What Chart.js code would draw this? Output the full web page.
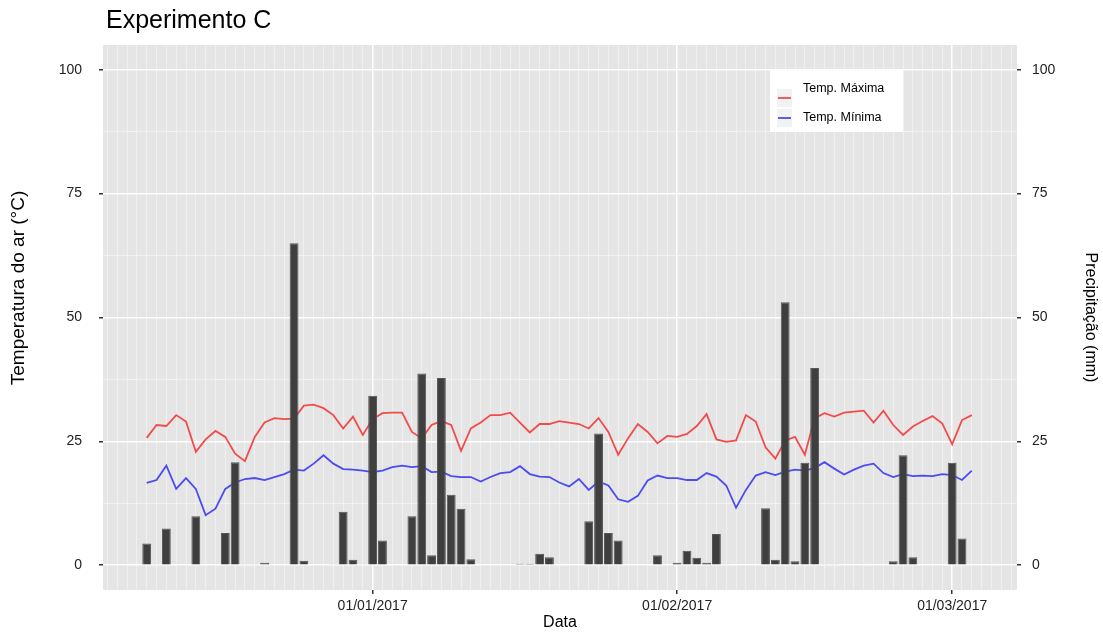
<!DOCTYPE html>
<html>
<head>
<meta charset="utf-8">
<script src="https://cdn.jsdelivr.net/npm/chart.js@4"></script>
<style>
  body { margin: 0; background: #fff; }
  #wrap { width: 1103px; height: 633px; }
</style>
</head>
<body>
<div id="wrap"><canvas id="chart" width="1103" height="633"></canvas></div>
<script>
// daily series, first day = startDate
const startDate = '2016-12-09';

const tmax = [25.7, 28.3, 28.1, 30.3, 29.0, 22.9, 25.4, 27.1, 25.9, 22.5,
              21.0, 25.9, 28.8, 29.7, 29.5, 29.6, 32.2, 32.4, 31.7, 30.3,
              27.6, 30.0, 26.3, 29.5, 30.7, 30.8, 30.8, 26.9, 25.6, 28.3,
              29.1, 28.3, 23.1, 27.6, 28.8, 30.3, 30.3, 30.8, 28.8, 26.8,
              28.5, 28.5, 29.1, 28.8, 28.5, 27.6, 29.7, 26.9, 22.3, 25.6,
              28.5, 26.9, 24.6, 26.1, 25.9, 26.5, 28.1, 30.5, 25.4, 24.9,
              25.2, 30.3, 29.0, 23.8, 21.5, 25.2, 25.9, 22.3, 29.7, 30.7,
              30.0, 30.8, 31.0, 31.2, 28.8, 31.2, 28.3, 26.3, 28.0, 29.1,
              30.1, 28.6, 24.4, 29.3, 30.3];

const tmin = [16.6, 17.2, 20.1, 15.4, 17.6, 15.4, 10.1, 11.4, 15.4, 16.7,
              17.4, 17.6, 17.2, 17.8, 18.4, 19.3, 19.1, 20.5, 22.2, 20.5,
              19.4, 19.3, 19.1, 18.8, 19.1, 19.8, 20.1, 19.8, 20.0, 18.8,
              18.9, 18.0, 17.8, 17.8, 16.9, 17.8, 18.6, 18.8, 20.0, 18.4,
              17.9, 17.8, 16.7, 15.9, 17.4, 15.2, 16.9, 16.1, 13.3, 12.8,
              14.0, 17.1, 18.1, 17.6, 17.6, 17.2, 17.2, 18.6, 17.9, 16.1,
              11.6, 15.2, 18.1, 18.8, 18.2, 18.9, 19.3, 19.1, 19.6, 20.8,
              19.5, 18.3, 19.3, 20.1, 20.5, 18.6, 17.8, 18.4, 18.0, 18.1,
              18.0, 18.4, 18.2, 17.2, 19.1];

const precip = [4.4, 0.2, 7.4, 0, 0, 9.9, 0, 0, 6.5, 20.8,
                0.2, 0.2, 0.5, 0, 0, 65.0, 0.9, 0, 0, 0.2,
                10.8, 1.1, 0.2, 34.2, 5.0, 0, 0, 9.9, 38.7, 2.0,
                37.8, 14.2, 11.4, 1.2, 0, 0, 0, 0, 0.3, 0.3,
                2.3, 1.6, 0, 0, 0, 8.9, 26.6, 6.5, 5.0, 0,
                0, 0, 2.0, 0, 0.5, 2.9, 1.5, 0.5, 6.3, 0.1,
                0, 0, 0, 11.5, 1.1, 53.1, 0.8, 20.7, 39.8, 0.2,
                0.2, 0, 0, 0, 0, 0, 0.8, 22.2, 1.6, 0,
                0, 0, 20.7, 5.4, 0];

const tickDates = ['2017-01-01', '2017-02-01', '2017-03-01'];
const tickLabels = ['01/01/2017', '01/02/2017', '01/03/2017'];
const axisTicks = [0, 25, 50, 75, 100];
const seriesLabels = ['Temp. Máxima', 'Temp. Mínima'];

const DAY = 86400000;
const t0 = Date.parse(startDate + 'T00:00:00Z');
function dayIndex(iso) {
  return Math.round((Date.parse(iso + 'T00:00:00Z') - t0) / DAY);
}
const monthTicks = tickDates.map(dayIndex);

// major ticks plus a minor one halfway between
const yTicks = [];
axisTicks.forEach((v, i) => {
  yTicks.push(v);
  if (i < axisTicks.length - 1) yTicks.push((v + axisTicks[i + 1]) / 2);
});

const font = "'Liberation Sans', Arial, sans-serif";
const isMajorY = v => axisTicks.includes(v);
const isMajorX = v => monthTicks.includes(v);

const panelPlugin = {
  id: 'panel',
  beforeDraw(chart) {
    const a = chart.chartArea;
    const ctx = chart.ctx;
    ctx.save();
    ctx.fillStyle = '#E5E5E5';
    ctx.fillRect(a.left, a.top, a.right - a.left, a.bottom - a.top);
    ctx.restore();
  },
  afterDraw(chart) {
    const ctx = chart.ctx;
    ctx.save();
    ctx.fillStyle = '#000';
    ctx.font = '25px ' + font;
    ctx.textBaseline = 'middle';
    ctx.fillText('Experimento C', 106, 21);

    // left axis title sits a bit above the panel centre in the original
    ctx.save();
    ctx.translate(19, 288);
    ctx.rotate(-Math.PI / 2);
    ctx.textAlign = 'center';
    ctx.font = '19px ' + font;
    ctx.fillText('Temperatura do ar (°C)', 0, 0);
    ctx.restore();

    // legend box inside the panel
    ctx.fillStyle = '#fff';
    ctx.fillRect(770, 70, 133, 62);
    const rows = [{key: 89, text: 89}, {key: 109, text: 118}];
    rows.forEach((r, i) => {
      const ds = chart.data.datasets[i + 1];
      ctx.fillStyle = '#F2F2F2';
      ctx.fillRect(777, r.key, 15, 18);
      ctx.strokeStyle = ds.borderColor;
      ctx.lineWidth = 1.8;
      ctx.beginPath();
      ctx.moveTo(778, r.key + 9);
      ctx.lineTo(791, r.key + 9);
      ctx.stroke();
      ctx.fillStyle = '#000';
      ctx.font = '12.5px ' + font;
      ctx.fillText(seriesLabels[i], 803, r.text);
    });
    ctx.restore();
  }
};

const tickFont = { family: font, size: 14 };

function yAxis(pos, title, pad) {
  return {
    type: 'linear',
    position: pos,
    min: -5,
    max: 105,
    afterBuildTicks(scale) { scale.ticks = yTicks.map(v => ({ value: v })); },
    afterFit(scale) { scale.width = pos === 'left' ? 103 : 86; },
    border: { display: false },
    grid: {
      drawOnChartArea: pos === 'left',
      color: c => (c.tick && isMajorY(c.tick.value)) ? '#FFFFFF' : '#F4F4F4',
      lineWidth: c => (c.tick && isMajorY(c.tick.value)) ? 1.5 : 0.8,
      tickColor: c => (c.tick && isMajorY(c.tick.value)) ? '#333333' : 'rgba(0,0,0,0)',
      tickLength: 4
    },
    ticks: {
      autoSkip: false,
      padding: pad,
      color: '#222',
      font: tickFont,
      callback: v => isMajorY(v) ? String(v) : ''
    },
    title: {
      display: title !== '',
      text: title,
      color: '#000',
      font: { family: font, size: 16 },
      padding: { top: 3, bottom: 0 }
    }
  };
}

const xs = tmax.map((_, i) => i);

new Chart(document.getElementById('chart'), {
  type: 'bar',
  data: {
    datasets: [{
      type: 'bar',
      label: 'Precipitação',
      data: xs.map(i => ({ x: i, y: precip[i] > 0 ? precip[i] : null })),
      yAxisID: 'y2',
      backgroundColor: '#3F3F3F',
      borderColor: '#555555',
      borderWidth: 1,
      barPercentage: 0.9,
      categoryPercentage: 1,
      order: 0
    }, {
      type: 'line',
      label: seriesLabels[0],
      data: xs.map(i => ({ x: i, y: tmax[i] })),
      yAxisID: 'y',
      borderColor: '#F24B4B',
      borderWidth: 1.8,
      pointRadius: 0,
      tension: 0,
      order: 1
    }, {
      type: 'line',
      label: seriesLabels[1],
      data: xs.map(i => ({ x: i, y: tmin[i] })),
      yAxisID: 'y',
      borderColor: '#4B4BF2',
      borderWidth: 1.8,
      pointRadius: 0,
      tension: 0,
      order: 2
    }]
  },
  options: {
    responsive: false,
    animation: false,
    devicePixelRatio: 1,
    layout: { padding: { top: 45, left: 0, right: 0, bottom: 0 } },
    plugins: {
      legend: { display: false },
      tooltip: { enabled: false }
    },
    scales: {
      x: {
        type: 'linear',
        offset: false,
        min: -4.45,
        max: 88.6,
        afterBuildTicks(scale) {
          const t = [];
          for (let v = Math.ceil(scale.min); v <= scale.max; v++) t.push({ value: v });
          scale.ticks = t;
        },
        afterFit(scale) { scale.height = 43; },
        border: { display: false },
        grid: {
          offset: false,
          color: c => (c.tick && isMajorX(c.tick.value)) ? '#FFFFFF' : '#F3F3F3',
          lineWidth: c => (c.tick && isMajorX(c.tick.value)) ? 1.5 : 0.8,
          tickColor: c => (c.tick && isMajorX(c.tick.value)) ? '#333333' : 'rgba(0,0,0,0)',
          tickLength: 4
        },
        ticks: {
          autoSkip: false,
          maxRotation: 0,
          padding: 4,
          color: '#222',
          font: tickFont,
          callback: v => {
            const k = monthTicks.indexOf(v);
            return k >= 0 ? tickLabels[k] : '';
          }
        },
        title: {
          display: true,
          text: 'Data',
          color: '#000',
          font: { family: font, size: 16 },
          padding: { top: 0, bottom: 1 }
        }
      },
      y: yAxis('left', '', 17),
      y2: yAxis('right', 'Precipitação (mm)', 11)
    }
  },
  plugins: [panelPlugin]
});
</script>
</body>
</html>
